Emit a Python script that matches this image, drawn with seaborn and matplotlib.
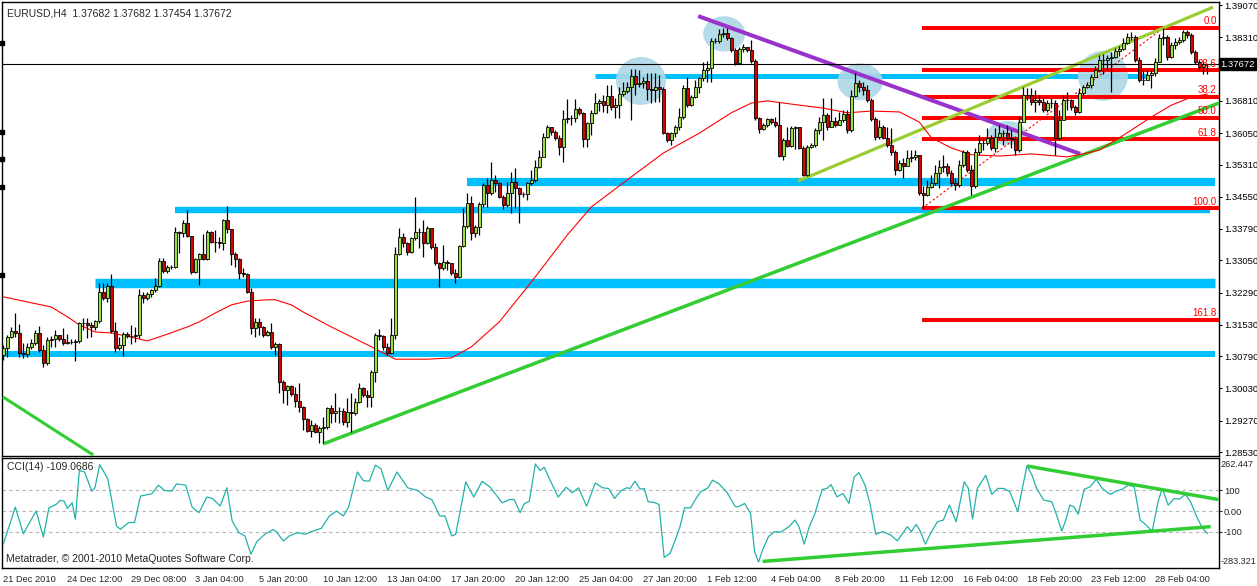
import numpy as np
import pandas as pd
import seaborn as sns
import matplotlib
matplotlib.use("Agg")
import matplotlib.pyplot as plt
from matplotlib import patches, transforms

# EURUSD H4, prices in units of 0.0001
first_open = 13082
closes = [
    13098, 13124, 13139, 13134, 13087, 13084, 13101, 13110, 13134, 13094,
    13063, 13117, 13120, 13129, 13120, 13110, 13113, 13113, 13115, 13157,
    13157, 13153, 13148, 13162, 13231, 13216, 13245, 13139, 13098, 13106,
    13131, 13127, 13127, 13129, 13223, 13216, 13226, 13235, 13245, 13304,
    13280, 13289, 13289, 13372, 13370, 13393, 13363, 13278, 13308, 13320,
    13308, 13372, 13348, 13348, 13346, 13400, 13379, 13320, 13308, 13275,
    13273, 13231, 13146, 13160, 13148, 13129, 13136, 13101, 13108, 13018,
    12999, 13009, 12990, 12973, 12959, 12931, 12903, 12917, 12900, 12910,
    12912, 12957, 12945, 12950, 12950, 12924, 12948, 12945, 12971, 13004,
    12988, 12983, 13042, 13129, 13127, 13101, 13087, 13129, 13320, 13360,
    13346, 13325, 13358, 13372, 13372, 13346, 13381, 13337, 13299, 13287,
    13301, 13299, 13275, 13266, 13339, 13386, 13440, 13370, 13384, 13438,
    13483, 13464, 13495, 13487, 13454, 13436, 13464, 13490, 13476, 13461,
    13461, 13487, 13495, 13525, 13549, 13596, 13620, 13608, 13594, 13572,
    13638, 13641, 13641, 13662, 13653, 13591, 13629, 13653, 13676, 13681,
    13671, 13693, 13667, 13671, 13697, 13704, 13714, 13740, 13721, 13723,
    13728, 13709, 13707, 13714, 13709, 13605, 13589, 13605, 13620, 13643,
    13712, 13671, 13690, 13714, 13735, 13754, 13759, 13822, 13822, 13839,
    13841, 13829, 13801, 13770, 13803, 13808, 13801, 13775, 13641, 13615,
    13624, 13638, 13631, 13624, 13551, 13589, 13575, 13617, 13620, 13570,
    13506, 13572, 13577, 13612, 13631, 13648, 13620, 13634, 13624, 13636,
    13650, 13612, 13693, 13723, 13714, 13707, 13683, 13638, 13596, 13620,
    13594, 13577, 13561, 13518, 13535, 13528, 13546, 13549, 13554, 13464,
    13459, 13478, 13487, 13511, 13525, 13528, 13511, 13487, 13483, 13530,
    13561, 13518, 13480, 13561, 13582, 13582, 13594, 13570, 13596, 13605,
    13605, 13594, 13591, 13565, 13631, 13695, 13695, 13679, 13683, 13679,
    13660, 13676, 13676, 13594, 13636, 13683, 13683, 13667, 13655, 13700,
    13714, 13719, 13737, 13754, 13778, 13778, 13782, 13785, 13799, 13803,
    13818, 13832, 13832, 13778, 13730, 13730, 13742, 13747, 13773, 13829,
    13832, 13785, 13813, 13820, 13825, 13844, 13836, 13796, 13773, 13761,
    13768, 13767.2,
]
highs = [
    13106, 13129, 13148, 13181, 13155, 13110, 13110, 13120, 13141, 13150,
    13106, 13124, 13127, 13141, 13129, 13146, 13131, 13120, 13120, 13160,
    13169, 13169, 13160, 13164, 13252, 13252, 13252, 13273, 13160, 13124,
    13136, 13136, 13153, 13148, 13238, 13231, 13231, 13238, 13263, 13311,
    13311, 13294, 13294, 13384, 13374, 13400, 13424, 13360, 13311, 13322,
    13367, 13377, 13374, 13377, 13360, 13403, 13433, 13379, 13325, 13311,
    13287, 13275, 13240, 13169, 13169, 13150, 13141, 13157, 13113, 13110,
    13023, 13011, 13011, 13006, 13016, 12962, 12933, 12929, 12922, 12914,
    12936, 12959, 12964, 12992, 12959, 12957, 12981, 12992, 12981, 13016,
    13006, 12999, 13047, 13134, 13143, 13129, 13110, 13169, 13337, 13381,
    13370, 13348, 13360, 13454, 13381, 13400, 13386, 13372, 13346, 13301,
    13341, 13306, 13297, 13285, 13341, 13428, 13464, 13457, 13388, 13443,
    13487, 13499, 13537, 13506, 13490, 13459, 13490, 13513, 13523, 13478,
    13466, 13490, 13518, 13542, 13565, 13605, 13624, 13612, 13612, 13601,
    13660, 13686, 13648, 13686, 13667, 13655, 13631, 13660, 13700, 13686,
    13695, 13719, 13719, 13688, 13714, 13726, 13726, 13756, 13756, 13754,
    13737, 13747, 13747, 13747, 13742, 13714, 13608, 13608, 13624, 13664,
    13719, 13737, 13695, 13730, 13737, 13773, 13775, 13829, 13829, 13851,
    13853, 13853, 13832, 13806, 13808, 13815, 13808, 13825, 13780, 13643,
    13629, 13641, 13641, 13643, 13679, 13594, 13620, 13622, 13622, 13620,
    13575, 13577, 13582, 13617, 13643, 13688, 13653, 13688, 13643, 13655,
    13660, 13660, 13707, 13747, 13730, 13726, 13719, 13688, 13643, 13636,
    13624, 13620, 13617, 13565, 13542, 13546, 13565, 13565, 13565, 13554,
    13480, 13495, 13506, 13530, 13542, 13554, 13535, 13518, 13499, 13542,
    13565, 13565, 13530, 13570, 13601, 13594, 13617, 13601, 13617, 13624,
    13612, 13624, 13612, 13598, 13643, 13714, 13712, 13712, 13707, 13695,
    13688, 13683, 13688, 13683, 13660, 13695, 13702, 13686, 13671, 13712,
    13719, 13726, 13745, 13763, 13789, 13792, 13789, 13796, 13806, 13811,
    13829, 13841, 13844, 13836, 13785, 13754, 13754, 13754, 13782, 13839,
    13853, 13836, 13820, 13829, 13832, 13848, 13848, 13841, 13801, 13778,
    13775, 13768.2,
]
lows = [
    13070, 13077, 13122, 13124, 13077, 13075, 13077, 13096, 13106, 13089,
    13054, 13058, 13101, 13101, 13115, 13106, 13108, 13108, 13068, 13110,
    13141, 13122, 13124, 13141, 13157, 13212, 13207, 13134, 13089, 13094,
    13080, 13122, 13108, 13113, 13122, 13205, 13212, 13219, 13231, 13242,
    13275, 13275, 13285, 13287, 13322, 13360, 13360, 13273, 13275, 13247,
    13306, 13306, 13346, 13325, 13334, 13330, 13370, 13294, 13289, 13261,
    13266, 13228, 13131, 13124, 13129, 13124, 13127, 13096, 13082, 12992,
    12969, 12964, 12985, 12959, 12948, 12905, 12900, 12889, 12898, 12874,
    12874, 12907, 12922, 12924, 12922, 12917, 12912, 12900, 12940, 12969,
    12983, 12959, 12959, 13018, 13117, 13094, 13082, 13084, 13120, 13318,
    13337, 13318, 13322, 13353, 13334, 13313, 13344, 13332, 13294, 13242,
    13282, 13282, 13271, 13252, 13263, 13337, 13381, 13353, 13360, 13365,
    13431, 13431, 13459, 13466, 13452, 13426, 13431, 13417, 13428, 13393,
    13454, 13447, 13483, 13490, 13523, 13549, 13594, 13601, 13589, 13554,
    13537, 13629, 13624, 13631, 13648, 13572, 13572, 13601, 13650, 13657,
    13655, 13653, 13660, 13641, 13641, 13693, 13700, 13636, 13695, 13714,
    13712, 13683, 13676, 13679, 13679, 13603, 13584, 13577, 13596, 13612,
    13638, 13667, 13669, 13688, 13700, 13728, 13726, 13726, 13818, 13818,
    13832, 13825, 13796, 13766, 13768, 13796, 13796, 13770, 13636, 13605,
    13612, 13620, 13627, 13620, 13549, 13542, 13572, 13572, 13568, 13568,
    13504, 13504, 13570, 13572, 13603, 13589, 13612, 13622, 13620, 13624,
    13631, 13605, 13608, 13690, 13702, 13695, 13679, 13634, 13589, 13591,
    13591, 13572, 13554, 13506, 13516, 13499, 13530, 13537, 13542, 13459,
    13428, 13457, 13476, 13483, 13476, 13513, 13504, 13483, 13471, 13478,
    13525, 13513, 13459, 13476, 13554, 13565, 13577, 13565, 13561, 13589,
    13577, 13589, 13570, 13554, 13561, 13631, 13683, 13671, 13655, 13671,
    13655, 13655, 13664, 13554, 13589, 13636, 13660, 13660, 13648, 13653,
    13695, 13712, 13712, 13737, 13749, 13745, 13754, 13702, 13782, 13787,
    13801, 13815, 13825, 13773, 13726, 13719, 13730, 13712, 13740, 13773,
    13813, 13778, 13782, 13803, 13815, 13820, 13829, 13792, 13768, 13754,
    13745, 13745.4,
]

# moving average (red), read at sample bars
ma_bars = [0, 12, 16, 19, 23, 27, 32, 36, 41, 46, 49, 53, 57, 61, 66, 68, 72, 75,
           82, 91, 98, 106, 112, 117, 124, 132, 141, 147, 157, 165, 174, 182, 187,
           191, 199, 205, 211, 217, 224, 229, 232, 237, 242, 249, 257, 266, 270,
           274, 279, 287, 292, 297, 301]
ma_vals = [13219, 13195, 13172, 13153, 13136, 13134, 13124, 13115, 13131, 13148,
           13160, 13181, 13200, 13209, 13212, 13212, 13200, 13183, 13148, 13106,
           13072, 13072, 13075, 13101, 13160, 13254, 13365, 13431, 13502, 13558,
           13605, 13653, 13676, 13681, 13671, 13664, 13653, 13657, 13655, 13631,
           13594, 13570, 13554, 13551, 13556, 13549, 13556, 13565, 13594, 13643,
           13671, 13690, 13697]

# CCI(14)
cci_bars = [0, 3.0, 5.0, 8.2, 10.0, 11.4, 13.2, 14.2, 15.2, 16.0, 17.2, 18.0, 19.0,
            20.3, 22.1, 22.9, 24.1, 26.1, 28.3, 29.3, 31.3, 32.8, 34.3, 37.1, 38.8,
            40.3, 42.1, 43.3, 45.6, 47.2, 48.9, 50.9, 52.4, 54.2, 55.9, 57.2, 58.9,
            60.4, 61.9, 63.4, 65.4, 67.4, 68.2, 70.0, 71.5, 73.5, 75.5, 77.0, 79.5,
            81.5, 83.3, 85.0, 86.3, 88.5, 90.0, 91.5, 93.0, 94.4, 96.1, 98.4, 101.1,
            103.6, 105.6, 107.1, 109.1, 110.4, 112.1, 113.1, 115.6, 117.6, 119.7,
            121.7, 124.7, 126.5, 127.7, 129.2, 130.2, 131.5, 133.0, 134.2, 135.2,
            137.2, 138.7, 140.7, 142.2, 143.8, 145.8, 148.0, 149.8, 151.3, 152.8,
            154.3, 155.8, 156.7, 157.9, 159.2, 160.2, 161.2, 162.7, 163.9, 165.2,
            166.7, 168.2, 169.2, 170.3, 171.8, 173.3, 174.3, 176.0, 177.3, 178.8,
            180.8, 183.0, 183.8, 185.3, 186.8, 187.8, 188.8, 189.8, 191.3, 192.8,
            194.3, 196.4, 197.9, 198.9, 200.2, 201.4, 202.9, 204.7, 205.9, 206.9,
            208.4, 209.9, 211.4, 212.7, 213.9, 215.4, 216.7, 218.1, 219.8, 221.8,
            223.5, 226.0, 227.0, 228.2, 229.2, 230.5, 231.8, 233.5, 235.0, 236.5,
            238.2, 240.2, 241.2, 242.3, 243.5, 245.6, 247.1, 248.6, 250.1, 251.6,
            253.6, 254.9, 255.9, 257.1, 258.3, 260.1, 262.1, 263.3, 264.6, 265.6,
            266.6, 267.6, 268.7, 270.2, 271.7, 273.2, 274.7, 276.7, 278.2, 279.7,
            281.2, 282.7, 284.2, 285.2, 287.2, 288.7, 289.7, 291.2, 292.7, 294.0,
            295.5, 296.8, 298.3, 299.8, 301.0]
cci_vals = [-161, 19, -110, 0, -126, 16, 32, 52, 48, 13, 40, -40, 197,
            190, 97, 113, 226, 158, -73, -89, -56, -56, 73, 84, 126,
            100, 97, 132, 126, 19, -8, 68, 60, 24, 113, -48, -105,
            -121, -210, -148, -113, -90, -100, -145, -121, -105, -113, -100, -84,
            -24, 0, -24, 19, 190, 148, 145, 223, 206, 100, 190, 113,
            100, 68, 56, -24, -24, -121, -113, 142, 68, 145,
            116, 40, 56, 56, -8, 35, 48, 229, 197, 213,
            129, 68, 116, 89, 113, 24, 137, 113, 110, 61,
            97, 113, 110, 145, 106, 110, 45, 42, 32, -226,
            -205, -129, -73, 16, 16, 65, 94, 110, 150, 134,
            94, 21, 21, 37, -11, -197, -248, -189, -124, -100,
            -103, -76, -44, -76, -161, -81, -11, 105, 110, 129,
            69, 85, 37, 166, 187, 126, 32, -113, -100, -116,
            -145, -76, -100, -65, -97, -161, -108, -52, -44, 29,
            -52, 142, 113, -39, 110, 174, 81, 110, 110, 94,
            -3, 126, 219, 177, 110, 53, 45, -19, -97, -44,
            29, 21, -16, 106, 118, 155, 110, 81, 97, 106,
            126, 118, -44, -60, -97, 48, 110, 29, 61, 58,
            81, 45, -27, -84, -109.07]

date_labels = ["21 Dec 2010", "24 Dec 12:00", "29 Dec 08:00", "3 Jan 04:00",
               "5 Jan 20:00", "10 Jan 12:00", "13 Jan 04:00", "17 Jan 20:00",
               "20 Jan 12:00", "25 Jan 04:00", "27 Jan 20:00", "1 Feb 12:00",
               "4 Feb 04:00", "8 Feb 20:00", "11 Feb 12:00", "16 Feb 04:00",
               "18 Feb 20:00", "23 Feb 12:00", "28 Feb 04:00"]
price_ticks = [1.39070, 1.38310, 1.36810, 1.36050, 1.35310, 1.34550, 1.33790,
               1.33050, 1.32290, 1.31530, 1.30790, 1.30030, 1.29270, 1.28530]
last_price = 1.37672

# horizontal support / resistance zones (blue)
zone_prices = [1.3739, 1.3489, 1.3424, 1.3252, 1.3084]
zone_start = [147.9, 115.9, 42.9, 22.9, -1.0]
zone_end = [285.9, 302.9, 301.7, 302.9, 302.9]
zone_lw = [3.6, 5.9, 4.6, 6.8, 4.3]

# fibonacci retracement
fib_high, fib_low = 1.3853, 1.3428
fib_start_bar, fib_high_bar = 229.7, 290.0
fib_ratios = [0.0, 23.6, 38.2, 50.0, 61.8, 100.0, 161.8]

# hand drawn trend lines: (bar0, price0, bar1, price1)
trend_purple = (173.7, 1.3881, 269.2, 1.3556)
trend_olive = (198.7, 1.3492, 302.4, 1.3902)
trend_green = (79.9, 1.2872, 303.9, 1.3676)
trend_green_old = (-0.1, 1.2983, 22.5, 1.2846)
cci_upper = (255.9, 219, 303.8, 56)
cci_lower = (189.8, -245, 301.8, -76)

# highlight ellipses: (bar, price, width in bars, height in price)
circles = [(159.4, 1.3728, 12.5, 0.0113), (180.2, 1.3839, 10.5, 0.0083),
           (214.2, 1.3726, 11.3, 0.0087), (250.9, 1.3605, 9.5, 0.0057),
           (274.9, 1.3740, 12.5, 0.0118)]

sns.set_style("white")
plt.rcParams["font.family"] = ["Liberation Sans", "DejaVu Sans"]

df = pd.DataFrame({
    "close": np.array(closes) / 1e4,
    "high": np.array(highs) / 1e4,
    "low": np.array(lows) / 1e4,
})
df["open"] = df["close"].shift(1).fillna(first_open / 1e4)
df.loc[df.index[-1], "open"] = 1.37682
df["bar"] = np.arange(len(df))
up = df["close"] >= df["open"]

fig = plt.figure(figsize=(12.57, 5.86), dpi=100)
ax = fig.add_axes([2 / 1257, 1 - 456 / 586, 1217 / 1257, 454 / 586])
ax2 = fig.add_axes([2 / 1257, 1 - 568 / 586, 1217 / 1257, 110 / 586], sharex=ax)

xlim = (-0.33, 303.9)
ax.set_xlim(*xlim)
ax.set_ylim(1.28437, 1.39142)

# zones and fib levels
for p, a, b, lw in zip(zone_prices, zone_start, zone_end, zone_lw):
    ax.plot([a, b], [p, p], color="#00BFFF", lw=lw, solid_capstyle="butt", zorder=2)

for e in circles:
    ax.add_patch(patches.Ellipse(e[:2], e[2], e[3], fc="#ADD8E6", ec="none", alpha=0.9, zorder=2.5))

fib_range = fib_high - fib_low
for r in fib_ratios:
    lvl = fib_high - r / 100 * fib_range
    ax.plot([fib_start_bar, xlim[1]], [lvl, lvl], color="#FF0000", lw=2.9,
            solid_capstyle="butt", zorder=3)
    ax.text(303.3, lvl + 0.0004, f"{r:.1f}", color="#FF0000", fontsize=7,
            ha="right", va="bottom", zorder=7)
ax.plot([fib_start_bar, fib_high_bar], [fib_low, fib_high], color="#FF0000",
        lw=0.8, ls=(0, (2, 2)), zorder=3)

for (x0, y0, x1, y1), col, lw in [(trend_purple, "#9933CC", 2.9), (trend_olive, "#9ACD32", 2.3),
                                 (trend_green, "#32CD32", 2.5), (trend_green_old, "#32CD32", 2.2)]:
    ax.plot([x0, x1], [y0, y1], color=col, lw=lw, solid_capstyle="butt", zorder=3.2)

sns.lineplot(x=ma_bars, y=np.array(ma_vals) / 1e4, ax=ax, color="red", lw=0.8,
             estimator=None, sort=False, zorder=3.5)

ax.axhline(last_price, color="black", lw=0.8, zorder=3.4)

# candles
body_lo = df[["open", "close"]].min(axis=1)
body_h = (df["close"] - df["open"]).abs().clip(lower=0.00003)
ax.vlines(df["bar"], df["low"], df["high"], color="black", lw=0.9, zorder=4)
ax.bar(df["bar"], body_h, bottom=body_lo, width=0.62,
       color=np.where(up, "#99E03A", "#D80000"), edgecolor="black", linewidth=0.6, zorder=5)

# right price axis
ax.yaxis.tick_right()
ax.set_yticks(price_ticks)
ax.set_yticklabels([f"{p:.5f}" for p in price_ticks])
ax.tick_params(axis="y", direction="out", length=2.5, width=0.8, labelsize=6.8, pad=1, colors="black")
ax.tick_params(axis="x", bottom=False, labelbottom=False)
ax.text(1.0012, last_price, f"{last_price:.5f}", transform=transforms.blended_transform_factory(ax.transAxes, ax.transData),
        color="white", fontsize=6.8, ha="left", va="center",
        bbox=dict(boxstyle="square,pad=0.15", fc="black", ec="black"), zorder=8, clip_on=False)
ax.text(0.004, 0.985, "EURUSD,H4  1.37682 1.37682 1.37454 1.37672", transform=ax.transAxes,
        fontsize=7.5, ha="left", va="top")
ax.plot([xlim[0]] * 5, [1.3818, 1.3608, 1.3544, 1.3478, 1.3271], "s", ms=2.2,
        color="black", clip_on=False, zorder=9)

# CCI panel
ax2.set_ylim(-277, 258)
for lvl in (100, 0, -100):
    ax2.axhline(lvl, color="#B4B4B4", lw=0.8, ls=(0, (3, 3)), zorder=1)
sns.lineplot(x=cci_bars, y=cci_vals, ax=ax2, color="#20B2AA", lw=0.9,
             estimator=None, sort=False, zorder=3)
for (x0, y0, x1, y1) in [cci_upper, cci_lower]:
    ax2.plot([x0, x1], [y0, y1], color="#32CD32", lw=2.5, solid_capstyle="butt", zorder=4)
ax2.yaxis.tick_right()
ax2.set_yticks([100, 0, -100])
ax2.set_yticklabels(["100", "0.00", "-100"])
ax2.tick_params(axis="y", direction="out", length=2.5, width=0.8, labelsize=6.8, pad=1)
yt = transforms.blended_transform_factory(ax2.transAxes, ax2.transAxes)
ax2.text(1.001, 0.985, "262.447", transform=yt, fontsize=6.6, ha="left", va="top")
ax2.text(1.001, 0.015, "-283.321", transform=yt, fontsize=6.6, ha="left", va="bottom")
ax2.text(0.004, 0.96, "CCI(14) -109.0686", transform=ax2.transAxes, fontsize=7.5, ha="left", va="top")
ax2.text(0.003, 0.04, "Metatrader, \u00a9 2001-2010 MetaQuotes Software Corp.", transform=ax2.transAxes,
         fontsize=7.5, ha="left", va="bottom")

ax2.set_xticks(np.arange(len(date_labels)) * 16)
ax2.set_xticklabels(date_labels, ha="left")
ax2.tick_params(axis="x", direction="out", length=3, width=0.8, labelsize=6.7, pad=2)
ax2.set_xlim(*xlim)
ax2.set_xlabel("")
ax2.set_ylabel("")
ax.set_xlabel("")
ax.set_ylabel("")

for a in (ax, ax2):
    for s in a.spines.values():
        s.set_color("black")
        s.set_linewidth(1.0)

fig.savefig("out.png", dpi=100, facecolor="white")
